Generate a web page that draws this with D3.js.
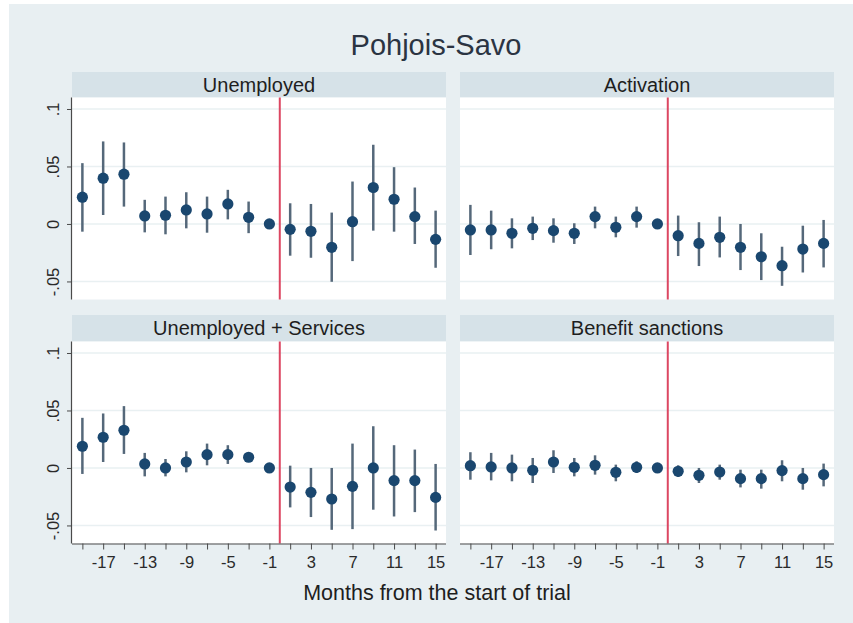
<!DOCTYPE html>
<html>
<head>
<meta charset="utf-8">
<script src="https://cdn.jsdelivr.net/npm/d3@7"></script>
<style>
  html, body { margin: 0; padding: 0; background: #ffffff; }
  svg { display: block; font-family: "Liberation Sans", Arial, sans-serif; }
</style>
</head>
<body>
<svg id="chart" width="853" height="623"></svg>
<script>
// Event-study estimates by month relative to the start of the trial (month -1 is the reference)
const months = [-19, -17, -15, -13, -11, -9, -7, -5, -3, -1, 1, 3, 5, 7, 9, 11, 13, 15];
const xLabelMonths = [-17, -13, -9, -5, -1, 3, 7, 11, 15];
const yTickValues = [-0.05, 0, 0.05, 0.1];
const yTickLabels = ["-.05", "0", ".05", ".1"];
const panelTitles = ["Unemployed", "Activation", "Unemployed + Services", "Benefit sanctions"];

const unemployedEst = [0.0233, 0.0398, 0.0433, 0.0070, 0.0076, 0.0122, 0.0087, 0.0174, 0.0058, 0, -0.0047, -0.0064, -0.0203, 0.0020, 0.0317, 0.0215, 0.0064, -0.0134];
const unemployedLo  = [-0.0067, 0.0078, 0.0151, -0.0073, -0.0090, -0.0038, -0.0076, 0.0040, -0.0080, null, -0.0276, -0.0294, -0.0503, -0.0323, -0.0058, -0.0067, -0.0174, -0.0381];
const unemployedHi  = [0.0529, 0.0718, 0.0709, 0.0210, 0.0238, 0.0276, 0.0238, 0.0297, 0.0195, null, 0.0180, 0.0174, 0.0099, 0.0369, 0.0689, 0.0494, 0.0317, 0.0116];

const activationEst = [-0.0052, -0.0052, -0.0081, -0.0038, -0.0058, -0.0081, 0.0064, -0.0029, 0.0064, 0, -0.0102, -0.0169, -0.0116, -0.0203, -0.0285, -0.0363, -0.0218, -0.0169];
const activationLo  = [-0.0270, -0.0220, -0.0212, -0.0140, -0.0163, -0.0174, -0.0038, -0.0116, -0.0032, null, -0.0279, -0.0366, -0.0291, -0.0401, -0.0488, -0.0538, -0.0422, -0.0378];
const activationHi  = [0.0166, 0.0116, 0.0049, 0.0064, 0.0049, 0.0006, 0.0151, 0.0064, 0.0151, null, 0.0073, 0.0015, 0.0064, 0.0000, -0.0081, -0.0198, -0.0015, 0.0035];

const servicesEst = [0.0189, 0.0267, 0.0328, 0.0035, 0.0000, 0.0052, 0.0116, 0.0116, 0.0093, 0, -0.0166, -0.0212, -0.0270, -0.0160, 0.0000, -0.0110, -0.0110, -0.0256];
const servicesLo  = [-0.0052, 0.0052, 0.0122, -0.0073, -0.0073, -0.0038, 0.0023, 0.0035, 0.0052, null, -0.0343, -0.0427, -0.0538, -0.0532, -0.0363, -0.0422, -0.0384, -0.0544];
const servicesHi  = [0.0436, 0.0474, 0.0538, 0.0131, 0.0078, 0.0145, 0.0212, 0.0198, 0.0131, null, 0.0020, 0.0000, 0.0000, 0.0212, 0.0363, 0.0198, 0.0160, 0.0035];

const sanctionsEst = [0.0020, 0.0009, 0.0000, -0.0020, 0.0052, 0.0006, 0.0023, -0.0038, 0.0006, 0, -0.0029, -0.0064, -0.0035, -0.0093, -0.0093, -0.0023, -0.0093, -0.0058];
const sanctionsLo  = [-0.0102, -0.0108, -0.0116, -0.0131, -0.0044, -0.0073, -0.0058, -0.0116, -0.0044, null, -0.0078, -0.0131, -0.0102, -0.0169, -0.0180, -0.0116, -0.0189, -0.0160];
const sanctionsHi  = [0.0137, 0.0131, 0.0116, 0.0087, 0.0154, 0.0087, 0.0110, 0.0029, 0.0058, null, 0.0023, 0.0000, 0.0029, -0.0015, -0.0015, 0.0067, 0.0000, 0.0038];

const seriesEst = [unemployedEst, activationEst, servicesEst, sanctionsEst];
const seriesLo  = [unemployedLo, activationLo, servicesLo, sanctionsLo];
const seriesHi  = [unemployedHi, activationHi, servicesHi, sanctionsHi];

// Layout
const W = 853, H = 623;
const colX = [72, 460];
const panelW = 374;
const stripTop = [72, 315];
const stripH = [25.5, 26.5];
const plotH = 202;

const svg = d3.select("#chart");

// Figure background
svg.append("rect").attr("x", 9).attr("y", 4).attr("width", W - 9).attr("height", H - 4)
  .attr("fill", "#e8eff2");

// Title
svg.append("text").attr("x", 436).attr("y", 55)
  .attr("text-anchor", "middle").attr("font-size", 29).attr("fill", "#2b3442")
  .text("Pohjois-Savo");

const x = d3.scaleLinear().domain([-20, 16]).range([0, panelW]);
const y = d3.scaleLinear().domain([-0.0657, 0.110]).range([plotH, 0]);

panelTitles.forEach((title, i) => {
  const col = i % 2, row = Math.floor(i / 2);
  const px = colX[col];
  const sTop = stripTop[row];
  const pTop = sTop + stripH[row];

  // Strip with panel title
  svg.append("rect").attr("x", px).attr("y", sTop).attr("width", panelW).attr("height", stripH[row])
    .attr("fill", "#d6e2e8");
  svg.append("text").attr("x", px + panelW / 2).attr("y", sTop + stripH[row] / 2 + 7)
    .attr("text-anchor", "middle").attr("font-size", 20).attr("fill", "#1e1e1e")
    .text(title);

  const g = svg.append("g").attr("transform", `translate(${px},${pTop})`);

  g.append("rect").attr("width", panelW).attr("height", plotH).attr("fill", "#ffffff");

  // Horizontal grid
  g.selectAll("line.grid").data(yTickValues).join("line")
    .attr("class", "grid")
    .attr("x1", 0).attr("x2", panelW)
    .attr("y1", d => y(d)).attr("y2", d => y(d))
    .attr("stroke", "#e9f0f2").attr("stroke-width", 1.5);

  // Trial start marker
  g.append("line")
    .attr("x1", x(0)).attr("x2", x(0)).attr("y1", 0).attr("y2", plotH)
    .attr("stroke", "#dc4762").attr("stroke-width", 2);

  const pts = months.map((m, k) => ({ m, est: seriesEst[i][k], lo: seriesLo[i][k], hi: seriesHi[i][k] }));

  // Confidence intervals
  g.selectAll("line.ci").data(pts.filter(d => d.lo !== null)).join("line")
    .attr("class", "ci")
    .attr("x1", d => x(d.m)).attr("x2", d => x(d.m))
    .attr("y1", d => y(d.lo)).attr("y2", d => y(d.hi))
    .attr("stroke", "#55687a").attr("stroke-width", 2.5);

  // Point estimates
  g.selectAll("circle.pt").data(pts).join("circle")
    .attr("class", "pt")
    .attr("cx", d => x(d.m)).attr("cy", d => y(d.est)).attr("r", 5.6)
    .attr("fill", "#1a476f");

  // Y axis on the left column
  if (col === 0) {
    const yAxis = d3.axisLeft(y).tickValues(yTickValues)
      .tickFormat((d, k) => yTickLabels[k]).tickSize(5).tickPadding(4);
    const ya = g.append("g").call(yAxis);
    ya.select(".domain").attr("stroke", "#4a4a4a").attr("stroke-width", 1.2)
      .attr("d", `M-0.5,0V${plotH}`);
    ya.selectAll(".tick line").attr("stroke", "#4a4a4a");
    ya.selectAll(".tick text")
      .attr("font-size", 16.5).attr("fill", "#2a2a2a")
      .attr("text-anchor", "middle").attr("dy", null)
      .attr("x", 0).attr("y", 0)
      .attr("transform", "translate(-19,0) rotate(-90)")
      .attr("dominant-baseline", "central");
  }

  // X axis on the bottom row
  if (row === 1) {
    const xAxis = d3.axisBottom(x).tickValues(months)
      .tickFormat(d => xLabelMonths.includes(d) ? d3.format("")(d).replace("−", "-") : "")
      .tickSize(6).tickPadding(7);
    const xa = g.append("g").attr("transform", `translate(0,${plotH})`).call(xAxis);
    xa.select(".domain").attr("stroke", "#4a4a4a").attr("stroke-width", 1.2)
      .attr("d", `M0,0.5H${panelW}`);
    xa.selectAll(".tick line").attr("stroke", "#4a4a4a");
    xa.selectAll(".tick text").attr("font-size", 16.5).attr("fill", "#2a2a2a");
  }
});

// X axis title
svg.append("text").attr("x", 437).attr("y", 600)
  .attr("text-anchor", "middle").attr("font-size", 21.5).attr("fill", "#1e1e1e")
  .text("Months from the start of trial");
</script>
</body>
</html>
